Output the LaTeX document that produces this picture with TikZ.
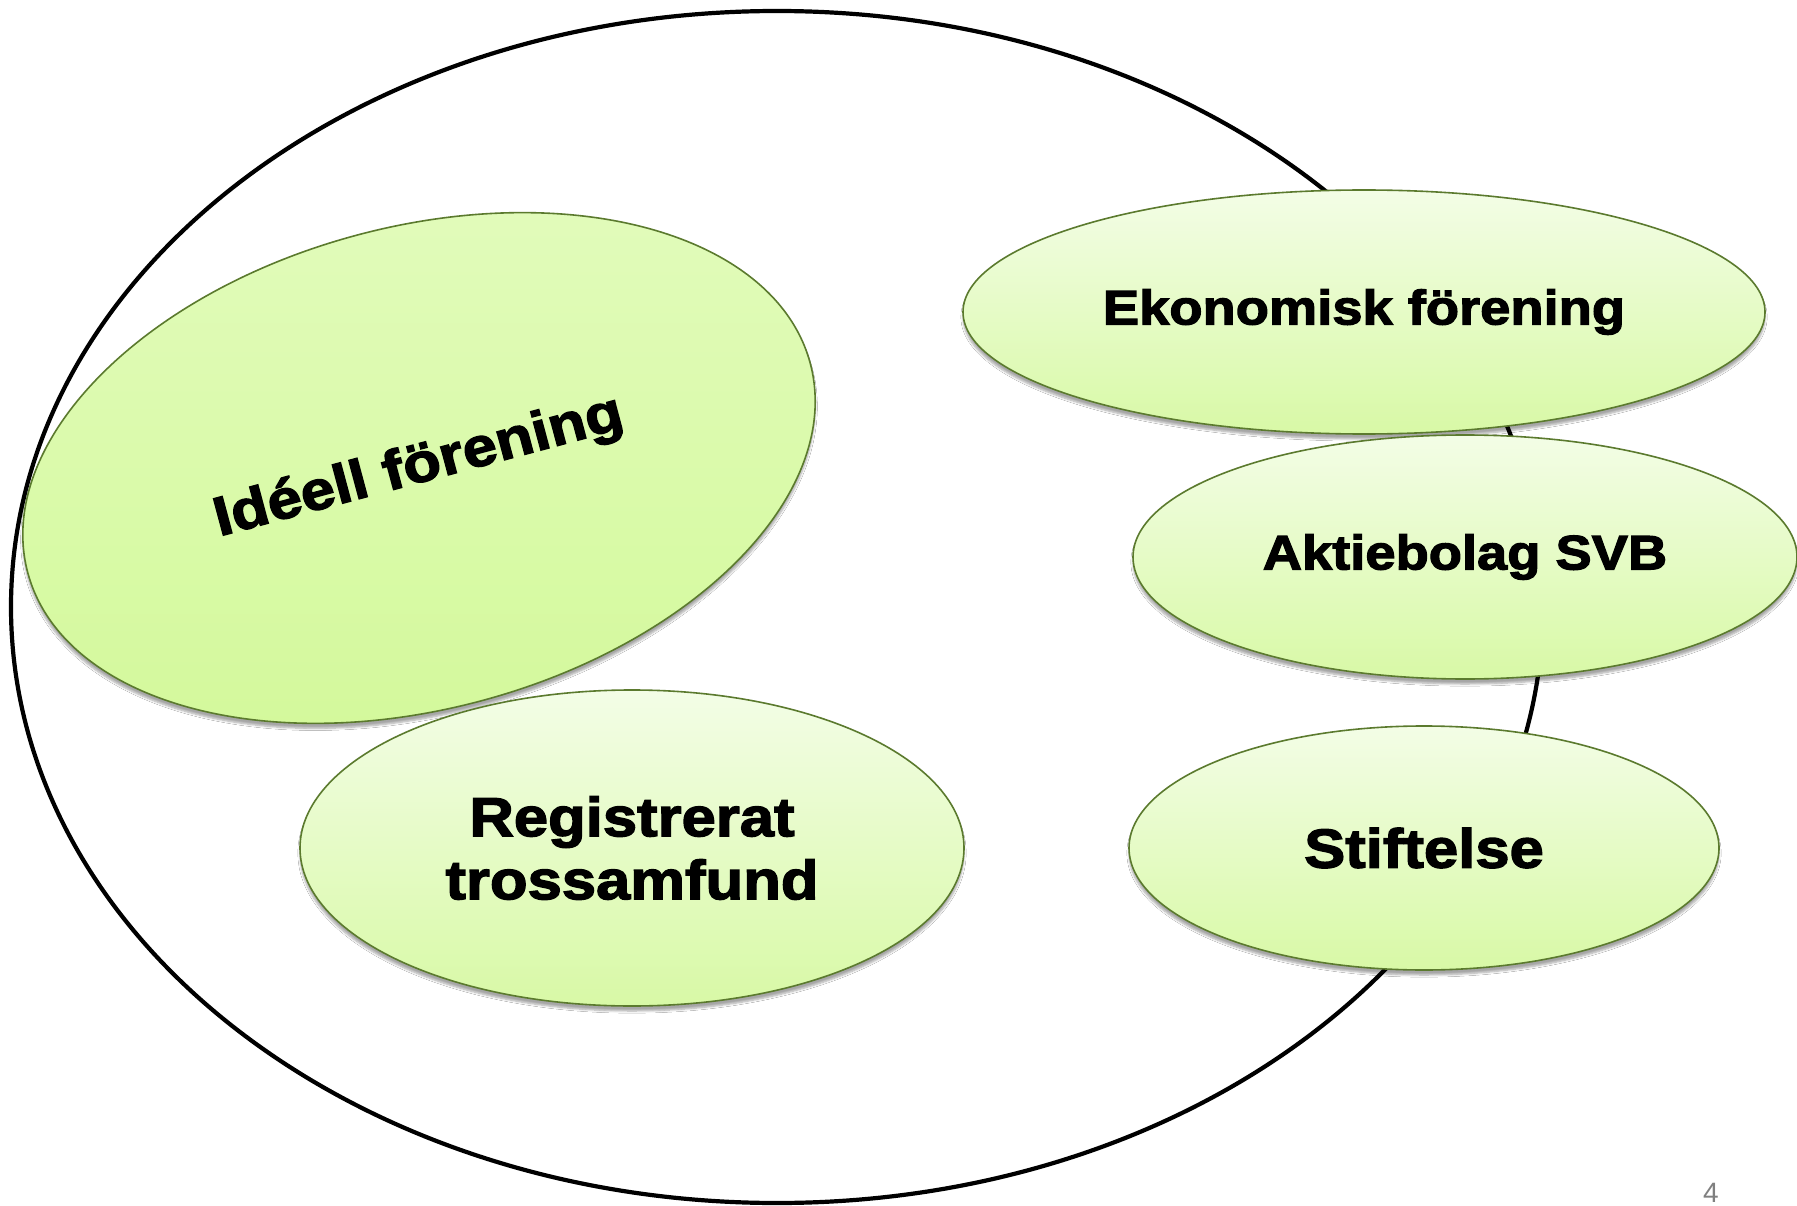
\documentclass[tikz,border=0pt]{standalone}
\usepackage{fontspec}
\setmainfont{Liberation Sans}
\newfontfamily\labelfont[FakeStretch=1.12, BoldFeatures={FakeBold=2.5}]{Liberation Sans}
\usetikzlibrary{shapes.geometric,shadows.blur}
\definecolor{rimgreen}{HTML}{5B7A2E}
\definecolor{lighttop}{HTML}{F3FDE6}
\definecolor{lightbot}{HTML}{D8F9A6}
\definecolor{idtop}{HTML}{E2FBBC}
\definecolor{idbot}{HTML}{D3F99A}
\tikzset{
  orgbox/.style={ellipse, draw=rimgreen, line width=1.6pt, inner sep=0pt,
    top color=lighttop, bottom color=lightbot,
    blur shadow={shadow xshift=0pt, shadow yshift=-5pt, shadow opacity=35, shadow blur steps=6},
    font=\labelfont\bfseries\fontsize{48.5}{58}\selectfont, align=center},
  bigtext/.style={font=\labelfont\bfseries\fontsize{55}{63}\selectfont},
  outerring/.style={draw=black, line width=4.2pt}
}
\begin{document}
\begin{tikzpicture}[x=1pt,y=-1pt]
\useasboundingbox (0,0) rectangle (1797,1206);
\fill[white] (0,0) rectangle (1797,1206);
\node[ellipse, outerring, minimum width=1532pt, minimum height=1192pt, inner sep=0pt] (ring) at (777,607) {};
\node[orgbox, bigtext, top color=idtop, bottom color=idbot, minimum width=810pt, minimum height=482pt, rotate=15] (ideell) at (419,468) {Idéell förening};
\node[orgbox, bigtext, minimum width=664pt, minimum height=316pt] (trossamfund) at (632,848) {Registrerat\\trossamfund};
\node[orgbox, minimum width=802pt, minimum height=244pt] (ekonomisk) at (1364,312) {Ekonomisk förening};
\node[orgbox, minimum width=664pt, minimum height=244pt] (aktiebolag) at (1465,557) {Aktiebolag SVB};
\node[orgbox, bigtext, minimum width=590pt, minimum height=244pt] (stiftelse) at (1424,848) {Stiftelse};
\node[text=gray, font=\fontsize{28}{30}\selectfont] (pagenum) at (1711,1193) {4};
\end{tikzpicture}
\end{document}
